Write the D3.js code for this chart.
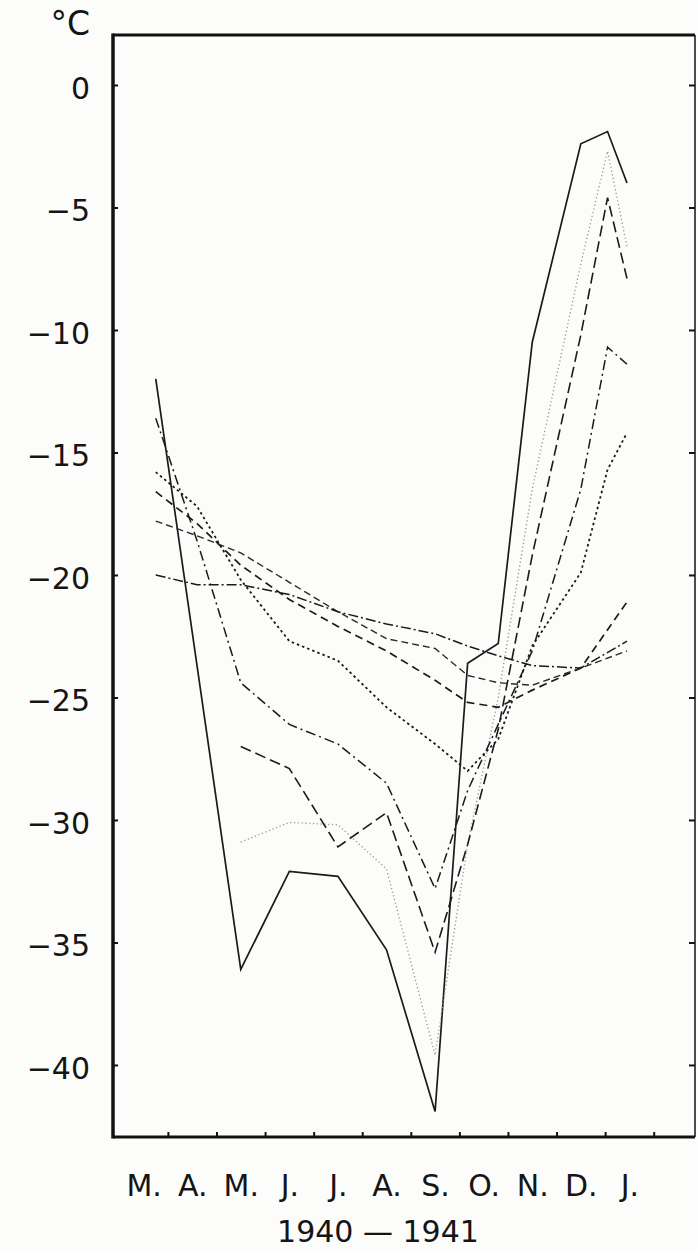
<!DOCTYPE html>
<html>
<head>
<meta charset="utf-8">
<script src="https://d3js.org/d3.v7.min.js"></script>
<style>
  body { margin: 0; background: #fcfdfb; }
  svg text { font-family: "DejaVu Sans", sans-serif; fill: #151515; }
</style>
</head>
<body>
<div id="chart"></div>
<script>
// x values in months counted from 1 March 1940
const months = [0.75, 1.6, 2.5, 3.5, 4.5, 5.5, 6.5, 7.17, 7.8, 8.5, 9.5, 10.05, 10.45];
const monthLabels = ["M.", "A.", "M.", "J.", "J.", "A.", "S.", "O.", "N.", "D.", "J."];
const yTicks = [0, -5, -10, -15, -20, -25, -30, -35, -40];

// temperatures (°C), one value per entry of months, null where the curve has no point
const solid    = [-12.0, null, -36.1, -32.1, -32.3, -35.3, -41.9, -23.6, -22.8, -10.5, -2.4, -1.9, -4.0];
const light    = [null, null, -30.9, -30.1, -30.2, -32.0, -39.6, -31.0, -25.0, -16.5, -7.3, -2.7, -6.6];
const longDash = [null, null, -27.0, -27.9, -31.1, -29.7, -35.4, -31.0, -26.3, -19.2, -10.2, -4.6, -7.9];
const dashDot  = [-13.6, -18.6, -24.4, -26.1, -26.9, -28.5, -32.8, -28.8, -26.1, -23.1, -16.5, -10.7, -11.4];
const dotted   = [-15.8, -17.2, -20.2, -22.7, -23.5, -25.4, -26.9, -28.0, -26.7, -22.9, -19.9, -15.7, -14.2];
const dashedA  = [-16.6, -17.9, -19.6, -21.0, -22.1, -23.1, -24.3, -25.2, -25.4, -24.7, -23.8, null, -21.1];
const dashedB  = [-17.8, -18.4, -19.1, -20.3, -21.5, -22.6, -23.0, -24.1, -24.4, -24.5, -23.8, null, -23.1];
const dashDotB = [-20.0, -20.4, -20.4, -20.8, -21.5, -22.0, -22.4, -22.9, -23.3, -23.7, -23.8, null, -22.7];

const series = [
    {values: solid,    dash: null,          color: "#1a1a1a", w: 1.7},
    {values: light,    dash: "1.2,2.6",     color: "#999999", w: 1.4},
    {values: longDash, dash: "11,5",        color: "#1a1a1a", w: 1.6},
    {values: dashDot,  dash: "10,4,2,4",    color: "#1a1a1a", w: 1.5},
    {values: dotted,   dash: "2.5,3",       color: "#1a1a1a", w: 1.8},
    {values: dashedA,  dash: "8,5",         color: "#1a1a1a", w: 1.7},
    {values: dashedB,  dash: "7,4",         color: "#2a2a2a", w: 1.4},
    {values: dashDotB, dash: "10,3,2,3",    color: "#1a1a1a", w: 1.5}
];

const width = 697, height = 1251;
const plotLeft = 113, plotRight = 695, plotTop = 35, plotBottom = 1137;

const svg = d3.select("#chart").append("svg")
    .attr("width", width)
    .attr("height", height);

const x = d3.scaleLinear().domain([-0.13, 11.85]).range([plotLeft, plotRight]);
const y = d3.scaleLinear().domain([2.04, -42.94]).range([plotTop, plotBottom]);

// curves
const line = d3.line()
    .defined(d => d[1] != null)
    .x(d => x(d[0]))
    .y(d => y(d[1]));

svg.append("g")
    .selectAll("path")
    .data(series)
    .join("path")
    .attr("d", s => line(months.map((m, i) => [m, s.values[i]]).filter(d => d[1] != null)))
    .attr("fill", "none")
    .attr("stroke", s => s.color)
    .attr("stroke-width", s => s.w)
    .attr("stroke-dasharray", s => s.dash)
    .attr("stroke-linejoin", "miter");

// left axis: inner ticks and labels
const yAxis = svg.append("g")
    .attr("transform", `translate(${plotLeft},0)`)
    .call(d3.axisLeft(y).tickValues(yTicks).tickSizeInner(-5).tickSizeOuter(0).tickPadding(23));
yAxis.select(".domain").remove();
yAxis.selectAll("line").attr("stroke", "#111").attr("stroke-width", 2);
yAxis.selectAll("text").attr("font-size", 30).attr("dy", "0.45em");

// right axis ticks
const yAxisR = svg.append("g")
    .attr("transform", `translate(${plotRight},0)`)
    .call(d3.axisRight(y).tickValues(yTicks).tickSizeInner(-6).tickSizeOuter(0).tickFormat(""));
yAxisR.select(".domain").remove();
yAxisR.selectAll("line").attr("stroke", "#111").attr("stroke-width", 2);

// bottom ticks at month boundaries
const xAxis = svg.append("g")
    .attr("transform", `translate(0,${plotBottom})`)
    .call(d3.axisBottom(x).tickValues(d3.range(1, 12)).tickSizeInner(-5).tickSizeOuter(0).tickFormat(""));
xAxis.select(".domain").remove();
xAxis.selectAll("line").attr("stroke", "#111").attr("stroke-width", 2);

// month labels at mid-month
const xLab = svg.append("g")
    .attr("transform", `translate(0,${plotBottom})`)
    .call(d3.axisBottom(x).tickValues(d3.range(0.5, 11, 1)).tickSize(0).tickPadding(38)
        .tickFormat((d, i) => monthLabels[i]));
xLab.select(".domain").remove();
xLab.selectAll("text").attr("font-size", 30);

// frame
svg.append("line").attr("x1", plotLeft).attr("x2", plotRight).attr("y1", plotTop).attr("y2", plotTop)
    .attr("stroke", "#111").attr("stroke-width", 3);
svg.append("line").attr("x1", plotLeft).attr("x2", plotRight).attr("y1", plotBottom).attr("y2", plotBottom)
    .attr("stroke", "#111").attr("stroke-width", 3);
svg.append("line").attr("x1", plotLeft).attr("x2", plotLeft).attr("y1", plotTop - 1.5).attr("y2", plotBottom + 1.5)
    .attr("stroke", "#111").attr("stroke-width", 3.5);
svg.append("line").attr("x1", plotRight).attr("x2", plotRight).attr("y1", plotTop).attr("y2", plotBottom)
    .attr("stroke", "#111").attr("stroke-width", 1.5);

// unit and year
svg.append("text")
    .attr("x", 90).attr("y", 35)
    .attr("text-anchor", "end")
    .attr("font-size", 33)
    .text("°C");

svg.append("text")
    .attr("x", 378).attr("y", 1242)
    .attr("text-anchor", "middle")
    .attr("font-size", 30)
    .text("1940 — 1941");
</script>
</body>
</html>
